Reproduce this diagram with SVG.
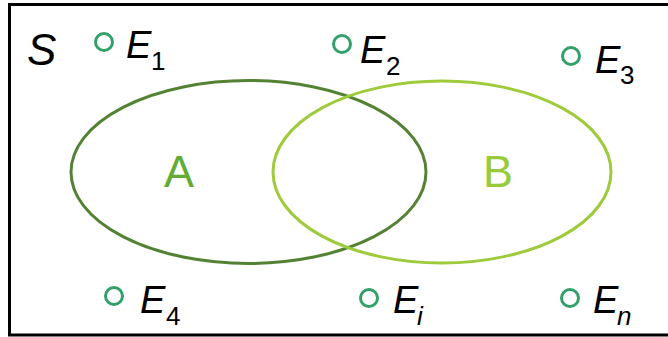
<svg xmlns="http://www.w3.org/2000/svg" width="668" height="337" viewBox="0 0 668 337">
  <style>
    .frame { fill: #ffffff; stroke: #000000; stroke-width: 3; }
    .set { fill: none; stroke-width: 3; }
    .setA { stroke: #548235; }
    .setB { stroke: #9DCB3C; }
    .pt { fill: none; stroke: #33A06A; stroke-width: 3; }
    .lbl { font-family: "Liberation Sans", Arial, sans-serif; font-style: italic; fill: #000000; }
    .main { font-size: 38px; }
    .sub { font-size: 26px; }
    .up { font-style: normal; }
    .setlbl { font-family: "Liberation Sans", Arial, sans-serif; font-size: 45px; text-anchor: middle; }
  </style>

  <!-- sample space -->
  <rect class="frame" x="9.5" y="4.5" width="670" height="330.5"/>
  <text class="lbl" x="27" y="65" font-size="44">S</text>

  <!-- events A and B -->
  <g id="setA">
    <ellipse class="set setA" cx="248.5" cy="172" rx="177.5" ry="91.5"/>
    <text class="setlbl" x="179" y="187" fill="#62AC34">A</text>
  </g>
  <g id="setB">
    <ellipse class="set setB" cx="442" cy="172" rx="169" ry="91"/>
    <text class="setlbl" x="498" y="187" fill="#97CB3A">B</text>
  </g>

  <!-- elementary outcomes -->
  <g id="E1">
    <circle class="pt" cx="104" cy="42" r="8.5"/>
    <text class="lbl main" x="126" y="58">E</text>
    <text class="lbl sub up" x="151" y="70">1</text>
  </g>
  <g id="E2">
    <circle class="pt" cx="342" cy="44" r="8.5"/>
    <text class="lbl main" x="360" y="63">E</text>
    <text class="lbl sub up" x="386" y="75">2</text>
  </g>
  <g id="E3">
    <circle class="pt" cx="571" cy="56" r="8.5"/>
    <text class="lbl main" x="595" y="73">E</text>
    <text class="lbl sub up" x="620" y="84">3</text>
  </g>
  <g id="E4">
    <circle class="pt" cx="114" cy="296" r="8.5"/>
    <text class="lbl main" x="140" y="313">E</text>
    <text class="lbl sub up" x="166" y="325">4</text>
  </g>
  <g id="Ei">
    <circle class="pt" cx="369" cy="298" r="8.5"/>
    <text class="lbl main" x="393" y="313">E</text>
    <text class="lbl sub" x="417" y="325">i</text>
  </g>
  <g id="En">
    <circle class="pt" cx="570" cy="298" r="8.5"/>
    <text class="lbl main" x="593" y="313">E</text>
    <text class="lbl sub" x="617" y="325">n</text>
  </g>

  <g id="connectors"></g>
</svg>
